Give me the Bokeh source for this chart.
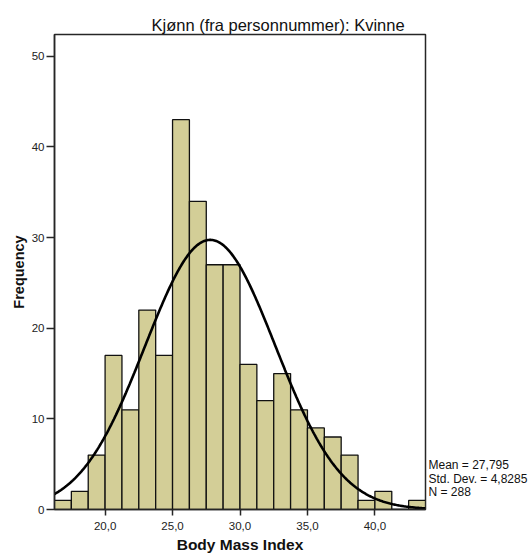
import numpy as np
from bokeh.plotting import figure
from bokeh.models import FixedTicker, LinearAxis
from bokeh.embed import file_html
from bokeh.resources import INLINE

# ---- data ----
bin_edges = [16.25, 17.5, 18.75, 20.0, 21.25, 22.5, 23.75, 25.0, 26.25, 27.5, 28.75,
             30.0, 31.25, 32.5, 33.75, 35.0, 36.25, 37.5, 38.75, 40.0, 41.25, 42.5, 43.75]
counts = [1, 2, 6, 17, 11, 22, 17, 43, 34, 27, 27, 16, 12, 15, 11, 9, 8, 6, 1, 2, 0, 1]
mean_bmi = 27.795
sd_bmi = 4.8285
n_obs = 288
x_ticks = [20, 25, 30, 35, 40]
x_tick_labels = ["20,0", "25,0", "30,0", "35,0", "40,0"]
y_ticks = [0, 10, 20, 30, 40, 50]
stats_lines = ["Mean = 27,795", "Std. Dev. = 4,8285", "N = 288"]
title_text = "Kjønn (fra personnummer): Kvinne"
x_label = "Body Mass Index"
y_label = "Frequency"

FONT = "Liberation Sans"
BAR_FILL = "#D3CE97"
AXIS_COL = "#262626"

p = figure(width=530, height=555, x_range=(16.25, 43.75), y_range=(0, 52.4),
           output_backend="svg", toolbar_location=None, title=title_text,
           min_border_left=54, min_border_right=105, min_border_top=34,
           min_border_bottom=46)
p.grid.visible = False
p.outline_line_color = AXIS_COL
p.outline_line_width = 1.5
p.background_fill_color = "white"
p.border_fill_color = "white"

# title
p.title.text_font = FONT
p.title.text_font_size = "16.5px"
p.title.text_font_style = "normal"
p.title.text_color = "#111111"
p.title.align = "left"
p.title.offset = 97
p.title.standoff = 1

p.quad(left=bin_edges[:-1], right=bin_edges[1:], bottom=0, top=counts,
       fill_color=BAR_FILL, line_color="#111111", line_width=1.3)

# fitted normal curve from the reported mean / sd / N
bw = bin_edges[1] - bin_edges[0]
xs = np.linspace(bin_edges[0], bin_edges[-1], 400)
ys = n_obs * bw * np.exp(-0.5 * ((xs - mean_bmi) / sd_bmi) ** 2) / (sd_bmi * np.sqrt(2 * np.pi))
p.line(xs, ys, line_color="black", line_width=2.6)

# axes
p.xaxis.ticker = FixedTicker(ticks=x_ticks)
p.xaxis.major_label_overrides = dict(zip(x_ticks, x_tick_labels))
p.yaxis.ticker = FixedTicker(ticks=y_ticks)
for ax in (p.xaxis, p.yaxis):
    ax.axis_line_color = AXIS_COL
    ax.axis_line_width = 1.5
    ax.major_tick_line_color = AXIS_COL
    ax.major_tick_line_width = 1.5
    ax.major_tick_in = 0
    ax.minor_tick_line_color = None
    ax.major_label_text_font = FONT
    ax.major_label_text_font_size = "11.5px"
    ax.major_label_text_color = "#222222"
    ax.axis_label_text_font = FONT
    ax.axis_label_text_font_style = "bold"
    ax.axis_label_text_color = "#111111"
p.xaxis.major_tick_out = 6
p.xaxis.major_label_standoff = 6
p.xaxis.axis_label = x_label
p.xaxis.axis_label_text_font_size = "15.5px"
p.xaxis.axis_label_standoff = 3
p.yaxis.major_tick_out = 8
p.yaxis.major_label_standoff = 2
p.yaxis.axis_label = y_label
p.yaxis.axis_label_text_font_size = "14.5px"
p.yaxis.axis_label_standoff = 2

# statistics box at the right, drawn as labels of an invisible right axis
stats_y = [4.93, 3.39, 1.91]
stats_axis = LinearAxis(ticker=FixedTicker(ticks=stats_y),
                        major_label_overrides=dict(zip(stats_y, stats_lines)))
stats_axis.axis_line_color = None
stats_axis.major_tick_line_color = None
stats_axis.minor_tick_line_color = None
stats_axis.major_tick_out = 0
stats_axis.major_tick_in = 0
stats_axis.major_label_standoff = 3
stats_axis.major_label_text_font = FONT
stats_axis.major_label_text_font_size = "12px"
stats_axis.major_label_text_color = "#111111"
p.add_layout(stats_axis, "right")

open("out.html", "w").write(file_html(p, INLINE))
